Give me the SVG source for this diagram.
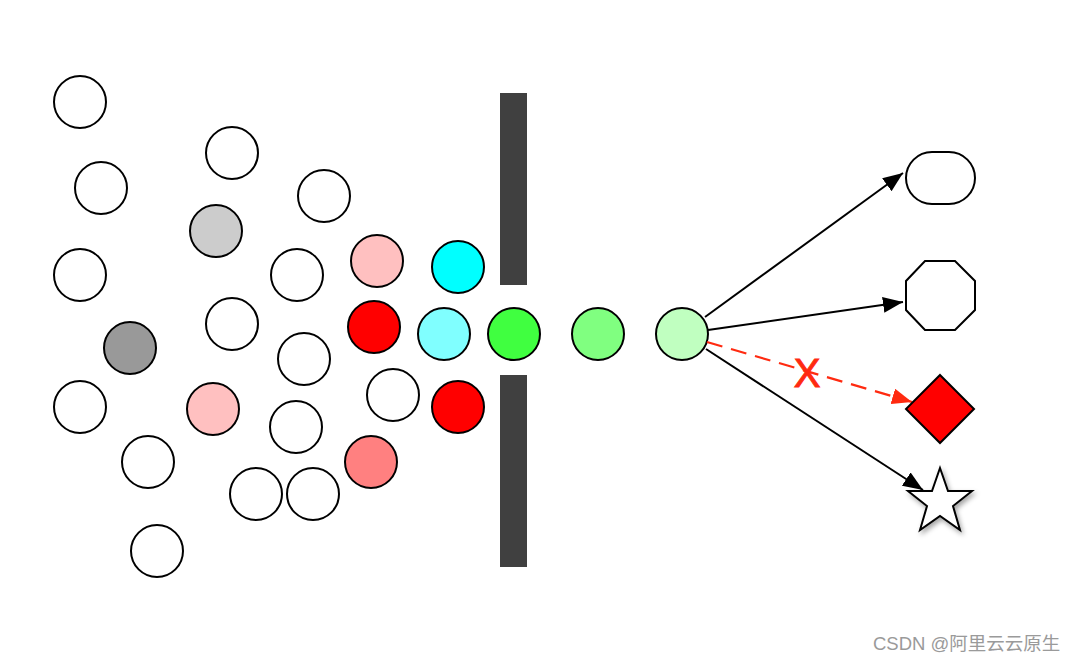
<svg xmlns="http://www.w3.org/2000/svg" width="1080" height="660" viewBox="0 0 1080 660">
<defs>
<style>
.c{stroke:#000;stroke-width:2}
.w{fill:#fff}
.bar{fill:#404040}
.ln{stroke:#000;stroke-width:2;fill:none}
.rd{stroke:#ff2a10;stroke-width:2.2;fill:none;stroke-dasharray:16 9}
.wm{font-family:"Liberation Sans","Noto Sans CJK SC",sans-serif;font-size:18.5px;fill:#9a9a9a}
</style>
<marker id="ab" viewBox="0 0 20 16" refX="20" refY="8" markerWidth="20" markerHeight="16" markerUnits="userSpaceOnUse" orient="auto">
<path d="M0,0 L20,8 L0,16 Z" fill="#000"/>
</marker>
<marker id="ar" viewBox="0 0 20 16" refX="20" refY="8" markerWidth="20" markerHeight="16" markerUnits="userSpaceOnUse" orient="auto">
<path d="M0,0 L20,8 L0,16 Z" fill="#ff2a10"/>
</marker>
<filter id="sh" x="-30%" y="-30%" width="160%" height="160%">
<feDropShadow dx="2" dy="3" stdDeviation="2.5" flood-color="#000" flood-opacity="0.35"/>
</filter>
</defs>
<rect width="1080" height="660" fill="#fff"/>
<g id="particles">
<circle class="c w" cx="80" cy="102" r="26"/>
<circle class="c w" cx="101" cy="188" r="26"/>
<circle class="c w" cx="80" cy="275" r="26"/>
<circle class="c w" cx="232" cy="153" r="26"/>
<circle class="c" fill="#cccccc" cx="216" cy="231" r="26"/>
<circle class="c w" cx="324" cy="196" r="26"/>
<circle class="c w" cx="297" cy="275" r="26"/>
<circle class="c w" cx="232" cy="324" r="26"/>
<circle class="c" fill="#999999" cx="130" cy="348" r="26"/>
<circle class="c w" cx="304" cy="359" r="26"/>
<circle class="c" fill="#ffc0c0" cx="377" cy="261" r="26"/>
<circle class="c" fill="#00ffff" cx="458" cy="267" r="26"/>
<circle class="c" fill="#ff0000" cx="374" cy="327" r="26"/>
<circle class="c" fill="#80ffff" cx="444" cy="334" r="26"/>
<circle class="c w" cx="393" cy="395" r="26"/>
<circle class="c" fill="#ff0000" cx="458" cy="407" r="26"/>
<circle class="c w" cx="80" cy="407" r="26"/>
<circle class="c" fill="#ffc0c0" cx="213" cy="409" r="26"/>
<circle class="c w" cx="296" cy="427" r="26"/>
<circle class="c w" cx="148" cy="462" r="26"/>
<circle class="c" fill="#ff8080" cx="371" cy="462" r="26"/>
<circle class="c w" cx="256" cy="494" r="26"/>
<circle class="c w" cx="313" cy="494" r="26"/>
<circle class="c w" cx="157" cy="551" r="26"/>
</g>
<g id="barrier">
<rect class="bar" x="500" y="93" width="27" height="192"/>
<rect class="bar" x="500" y="375" width="27" height="192"/>
</g>
<g id="passing">
<circle class="c" fill="#40ff40" cx="514" cy="334" r="26"/>
<circle class="c" fill="#80ff80" cx="598" cy="334" r="26"/>
</g>
<g id="source">
<circle class="c" fill="#c0ffc0" cx="682" cy="334" r="26"/>
</g>
<g id="connectors">
<line class="ln" x1="705" y1="317" x2="903" y2="173" marker-end="url(#ab)"/>
<line class="ln" x1="708" y1="330" x2="903" y2="302" marker-end="url(#ab)"/>
<line class="rd" x1="707" y1="342" x2="912" y2="402" marker-end="url(#ar)"/>
<text x="807" y="387" text-anchor="middle" font-family="Liberation Sans, sans-serif" font-size="40" fill="#ff2a10" stroke="#ff2a10" stroke-width="1">X</text>
<line class="ln" x1="706" y1="349" x2="923" y2="490" marker-end="url(#ab)"/>
</g>
<g id="target-rounded">
<rect class="c w" x="906" y="152" width="69" height="52" rx="26" ry="26"/>
</g>
<g id="target-octagon">
<polygon class="c w" points="925,261 955,261 975,281 975,310 955,330 925,330 906,310 906,281"/>
</g>
<g id="target-diamond">
<polygon class="c" fill="#ff0000" points="940,375 974,409 940,443 906,409"/>
</g>
<g id="target-star">
<polygon class="c w" filter="url(#sh)" points="940,468 948,491 972,491 953,506 960,530 940,516 920,530 927,506 908,491 932,491"/>
</g>
<text class="wm" x="873" y="650">CSDN @阿里云云原生</text>
</svg>
